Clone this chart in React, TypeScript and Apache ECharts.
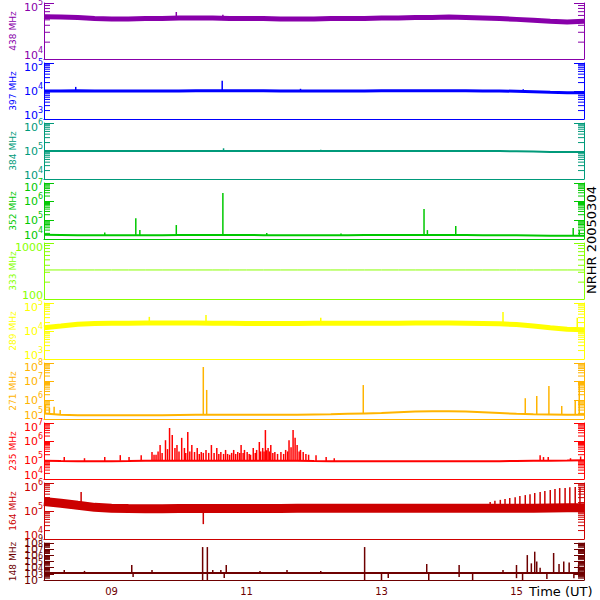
import React, { useEffect, useRef } from "react";
import * as echarts from "echarts";

// ---------- data ----------
const hours = [8, 8.25, 8.5, 8.75, 9, 9.25, 9.5, 9.75, 10, 10.25, 10.5, 10.75, 11, 11.25, 11.5, 11.75, 12, 12.25, 12.5, 12.75, 13, 13.25, 13.5, 13.75, 14, 14.25, 14.5, 14.75, 15, 15.25, 15.5, 15.75, 16];

const panelLabels = ["438 MHz", "397 MHz", "384 MHz", "352 MHz", "333 MHz", "289 MHz", "271 MHz", "235 MHz", "164 MHz", "148 MHz"];
const panelColors = ["#8800aa", "#0000ff", "#009a7a", "#00c800", "#88ff00", "#ffff00", "#ffb400", "#ff0000", "#cc0000", "#6e0000"];
const yMinExp = [4, 3, 4, 4, 2, 3, 5, 4, 4, 3];
const yMaxExp = [5, 5, 6, 7, 3, 5, 8, 7, 6, 9];
const plainLabelPanels = ["333 MHz"];
const xTickHours = [9, 11, 13, 15];

const base438 = [57000, 56000, 55000, 53000, 52000, 52000, 53000, 53000, 54000, 54000, 54000, 53000, 53000, 53000, 52000, 52000, 52000, 53000, 53000, 53000, 54000, 54000, 55000, 55000, 56000, 55000, 54000, 53000, 51000, 49000, 47000, 46000, 47000];
const base397 = [10000, 10000, 10200, 10000, 10000, 10000, 10000, 10000, 10000, 10200, 10300, 10300, 10200, 10200, 10000, 10000, 10000, 10000, 10000, 10000, 10200, 10200, 10200, 10300, 10300, 10200, 10000, 10000, 9800, 9400, 9000, 8700, 8600];
const base384 = [100000, 99000, 100000, 100000, 100000, 100000, 100000, 101000, 101000, 101000, 101000, 101000, 101000, 100000, 100000, 100000, 100000, 100000, 100000, 100000, 100000, 101000, 101000, 101000, 101000, 100000, 100000, 99000, 97000, 95000, 93000, 92000, 92000];
const base352 = [17000, 16500, 16000, 16000, 16000, 16000, 16000, 16000, 16500, 16500, 16500, 16500, 16500, 16000, 16000, 16000, 16000, 16000, 16000, 16500, 16500, 16500, 16500, 16500, 16500, 16500, 16000, 16000, 16000, 15500, 15000, 15000, 15000];
const base333 = [330, 330, 330, 330, 330, 330, 330, 330, 330, 330, 330, 330, 330, 330, 330, 330, 330, 330, 330, 330, 330, 330, 330, 330, 330, 330, 330, 330, 330, 330, 330, 330, 330];
const base289 = [13000, 15000, 17500, 18500, 19000, 19000, 19500, 19500, 19500, 19500, 19000, 19000, 18500, 18500, 18500, 18500, 19000, 19000, 19000, 19000, 19000, 19000, 19500, 19500, 19500, 19000, 18500, 18000, 17000, 15000, 13000, 11500, 11000];
const base271 = [200000, 170000, 160000, 160000, 160000, 160000, 160000, 160000, 165000, 170000, 170000, 170000, 170000, 170000, 170000, 170000, 175000, 180000, 190000, 200000, 210000, 230000, 250000, 260000, 260000, 250000, 230000, 210000, 190000, 180000, 175000, 170000, 170000];
const base235 = [95000, 92000, 90000, 90000, 90000, 92000, 95000, 95000, 95000, 95000, 95000, 95000, 95000, 95000, 95000, 95000, 92000, 90000, 90000, 90000, 90000, 90000, 90000, 90000, 90000, 90000, 90000, 90000, 92000, 95000, 95000, 97000, 100000];
const base164 = [220000, 190000, 160000, 135000, 125000, 122000, 120000, 120000, 122000, 122000, 122000, 122000, 122000, 122000, 122000, 125000, 125000, 125000, 125000, 125000, 125000, 125000, 125000, 125000, 125000, 125000, 125000, 125000, 125000, 125000, 128000, 130000, 130000];
const base148 = [13500, 13500, 13500, 13500, 13500, 13500, 13500, 13500, 13500, 13500, 13500, 13500, 13500, 13500, 13500, 13500, 13500, 13500, 13500, 13500, 13500, 13500, 13500, 13500, 13500, 13500, 13500, 13500, 13500, 13500, 13500, 13500, 13500];

// spikes: [hour, from, to]
const spikes438 = [[9.96, 53000, 69000], [10.65, 54000, 62000], [13.6, 55000, 60000]];
const spikes397 = [[8.47, 10000, 14000], [10.64, 10200, 23000], [11.8, 10000, 12000], [15.1, 9800, 11500]];
const spikes384 = [[10.66, 100000, 125000], [12.1, 100000, 110000]];
const spikes352 = [[8.9, 16000, 22000], [9.36, 16000, 130000], [9.42, 16000, 30000], [9.96, 16500, 56000], [10.65, 16500, 2900000], [11.3, 16000, 21000], [12.4, 16000, 20000], [13.63, 16500, 400000], [13.68, 16500, 30000], [14.1, 16500, 50000], [15.84, 15000, 39000], [15.93, 15000, 30000]];
const spikes333: number[][] = [];
const spikes289 = [[9.56, 19500, 32000], [10.4, 19000, 37000], [12.1, 19000, 30000], [14.8, 18000, 48000], [15.9, 11000, 30000]];
const spikes271 = [[8.02, 200000, 560000], [8.08, 190000, 400000], [8.15, 180000, 450000], [8.24, 170000, 300000], [10.36, 170000, 61000000], [10.41, 170000, 3600000], [12.73, 200000, 6600000], [15.13, 180000, 1300000], [15.3, 175000, 1700000], [15.48, 175000, 5800000], [15.67, 170000, 500000], [15.87, 170000, 1000000], [15.93, 170000, 11000000]];
const spikes235 = [[8.3, 92000, 150000], [8.6, 90000, 130000], [8.9, 92000, 150000], [9.13, 95000, 190000], [9.26, 95000, 150000], [9.44, 95000, 190000], [9.6, 95000, 280000], [9.63, 95000, 200000], [9.66, 95000, 200000], [9.69, 95000, 300000], [9.72, 95000, 660000], [9.75, 95000, 250000], [9.8, 95000, 1200000], [9.83, 95000, 400000], [9.86, 95000, 5400000], [9.9, 95000, 2300000], [9.94, 95000, 460000], [9.97, 95000, 660000], [10.0, 95000, 300000], [10.04, 95000, 1600000], [10.08, 95000, 460000], [10.1, 95000, 250000], [10.13, 95000, 3300000], [10.16, 95000, 300000], [10.19, 95000, 660000], [10.23, 95000, 280000], [10.27, 95000, 460000], [10.3, 95000, 220000], [10.33, 95000, 280000], [10.36, 95000, 250000], [10.4, 95000, 360000], [10.44, 95000, 250000], [10.48, 95000, 660000], [10.52, 95000, 250000], [10.56, 95000, 460000], [10.59, 95000, 220000], [10.62, 95000, 280000], [10.66, 95000, 220000], [10.69, 95000, 360000], [10.72, 95000, 220000], [10.75, 95000, 200000], [10.78, 95000, 250000], [10.81, 95000, 360000], [10.84, 95000, 220000], [10.87, 95000, 280000], [10.9, 95000, 250000], [10.92, 95000, 660000], [10.95, 95000, 250000], [10.97, 95000, 360000], [11.01, 95000, 280000], [11.04, 95000, 220000], [11.06, 95000, 200000], [11.1, 95000, 460000], [11.13, 95000, 250000], [11.15, 95000, 360000], [11.19, 95000, 960000], [11.21, 95000, 300000], [11.24, 95000, 460000], [11.26, 95000, 300000], [11.28, 95000, 4200000], [11.3, 95000, 350000], [11.32, 95000, 460000], [11.34, 95000, 300000], [11.36, 95000, 660000], [11.39, 95000, 250000], [11.42, 95000, 280000], [11.46, 95000, 220000], [11.51, 95000, 280000], [11.55, 95000, 220000], [11.58, 95000, 360000], [11.61, 95000, 300000], [11.63, 95000, 1200000], [11.66, 95000, 500000], [11.69, 95000, 4200000], [11.72, 95000, 1600000], [11.75, 95000, 660000], [11.78, 95000, 300000], [11.8, 95000, 360000], [11.84, 95000, 280000], [11.88, 95000, 220000], [11.92, 95000, 200000], [12.03, 92000, 190000], [12.18, 92000, 150000], [12.3, 90000, 130000], [15.35, 92000, 190000], [15.4, 92000, 150000], [15.47, 95000, 150000], [15.8, 97000, 130000], [15.95, 100000, 160000]];
const spikes164 = [[8.55, 155000, 480000], [10.36, 122000, 34000], [14.61, 100000, 210000], [14.68, 100000, 230000], [14.76, 100000, 250000], [14.83, 100000, 270000], [14.9, 100000, 290000], [14.98, 100000, 310000], [15.05, 100000, 340000], [15.13, 100000, 370000], [15.2, 100000, 400000], [15.27, 100000, 440000], [15.35, 100000, 480000], [15.42, 100000, 520000], [15.5, 100000, 560000], [15.57, 100000, 610000], [15.64, 100000, 660000], [15.72, 100000, 660000], [15.79, 100000, 700000], [15.87, 100000, 720000], [15.94, 100000, 720000]];
const spikes148 = [[8.3, 13500, 40000], [8.6, 13500, 30000], [9.3, 13500, 270000], [9.32, 3000, 13500], [9.6, 13500, 40000], [10.35, 1000, 220000000], [10.42, 1000, 220000000], [10.5, 13500, 40000], [10.62, 13500, 40000], [10.67, 2100, 13500], [10.7, 13500, 270000], [11.2, 13500, 30000], [11.6, 13500, 40000], [12.1, 13500, 30000], [12.75, 1000, 220000000], [13.0, 1000, 13500], [13.1, 2100, 13500], [13.67, 13500, 390000], [13.7, 1000, 13500], [14.15, 3000, 270000], [14.35, 1000, 13500], [14.8, 13500, 40000], [15.0, 2000, 270000], [15.09, 1000, 13500], [15.16, 13500, 11000000], [15.22, 13500, 500000], [15.27, 13500, 39000000], [15.3, 13500, 1000000], [15.35, 13500, 100000], [15.45, 1500, 13500], [15.55, 13500, 24000000], [15.63, 13500, 400000], [15.7, 13500, 1000000], [15.78, 13500, 700000], [15.85, 2000, 13500], [15.92, 13500, 300000]];

const bases = [base438, base397, base384, base352, base333, base289, base271, base235, base164, base148];
const spikes = [spikes438, spikes397, spikes384, spikes352, spikes333, spikes289, spikes271, spikes235, spikes164, spikes148];

// ---------- layout ----------
const gridTops = [3, 63, 123, 183, 243, 303, 363, 423, 483, 543];
const gridHeights = [56, 56, 56, 56, 56, 56, 56, 56, 56, 37];
const bandWidths = [5, 3, 2, 2, 1, 5, 2, 2, 9, 2];
const FONT = "DejaVu Sans";
const X_MIN = 8;
const X_MAX = 16;

function buildOption() {
  const grid: any[] = [];
  const xAxis: any[] = [];
  const yAxis: any[] = [];
  const series: any[] = [];
  const graphic: any[] = [];

  panelLabels.forEach((label, i) => {
    const color = panelColors[i];
    const lo = yMinExp[i];
    const hi = yMaxExp[i];
    const plain = plainLabelPanels.includes(label);
    const small = gridHeights[i] < 50;
    grid.push({ left: 44, right: 16, top: gridTops[i], height: gridHeights[i], containLabel: false });
    const last = i === panelLabels.length - 1;
    xAxis.push({
      type: "value",
      gridIndex: i,
      min: X_MIN,
      max: X_MAX,
      interval: 1,
      axisLine: { show: true, onZero: false, lineStyle: { color, width: 1 } },
      axisTick: { show: false },
      splitLine: { show: false },
      axisLabel: last
        ? {
            show: true,
            color: "#6e0000",
            fontSize: 10,
            fontFamily: FONT,
            margin: 6,
            formatter: (v: number) => (xTickHours.includes(v) ? String(v).padStart(2, "0") : ""),
          }
        : { show: false },
    });
    const common = { type: "value", gridIndex: i, min: lo, max: hi, interval: 1, splitLine: { show: false }, axisLabel: { show: false } };
    yAxis.push({
      ...common,
      position: "left",
      axisLine: { show: true, lineStyle: { color, width: 1 } },
      axisTick: { show: true, inside: true, length: 10, lineStyle: { color, width: 1 } },
    });
    yAxis.push({
      ...common,
      position: "right",
      axisLine: { show: true, lineStyle: { color, width: 1 } },
      axisTick: { show: true, inside: true, length: 10, lineStyle: { color, width: 1 } },
    });

    // decade tick labels, placed at the left axis through the axis scale
    const decades: number[][] = [];
    for (let d = lo; d <= hi; d++) decades.push([X_MIN, d]);
    series.push({
      type: "custom",
      xAxisIndex: i,
      yAxisIndex: 2 * i,
      clip: false,
      silent: true,
      encode: { x: 0, y: 1 },
      data: decades,
      renderItem: (params: any, api: any) => {
        const ex = Math.round(api.value(1));
        const p = api.coord([X_MIN, ex]);
        const dy = small ? 0 : ex === hi ? 4 : ex === lo ? -4 : 0;
        const xr = p[0] - 1;
        const y = p[1] + dy;
        if (plain) {
          return {
            type: "text",
            style: { text: String(Math.pow(10, ex)), x: xr, y, fill: color, fontSize: 11, fontFamily: FONT, align: "right", verticalAlign: "middle" },
          };
        }
        return {
          type: "group",
          children: [
            { type: "text", style: { text: "10", x: xr - 5, y, fill: color, fontSize: 11, fontFamily: FONT, align: "right", verticalAlign: "middle" } },
            { type: "text", style: { text: String(ex), x: xr, y: y - 5, fill: color, fontSize: 8, fontFamily: FONT, align: "right", verticalAlign: "middle" } },
          ],
        };
      },
      z: 6,
    });

    // minor log ticks (2..9 in each decade), drawn at both side axes
    const minors: number[][] = [];
    for (let d = lo; d < hi; d++) for (let m = 2; m <= 9; m++) minors.push([X_MIN, d + Math.log10(m)]);
    series.push({
      type: "custom",
      xAxisIndex: i,
      yAxisIndex: 2 * i,
      clip: false,
      silent: true,
      encode: { x: 0, y: 1 },
      data: minors,
      renderItem: (params: any, api: any) => {
        const pl = api.coord([X_MIN, api.value(1)]);
        const pr = api.coord([X_MAX, api.value(1)]);
        return {
          type: "group",
          children: [
            { type: "line", shape: { x1: pl[0], y1: pl[1], x2: pl[0] + 6, y2: pl[1] }, style: { stroke: color, lineWidth: 1 } },
            { type: "line", shape: { x1: pr[0] - 6, y1: pr[1], x2: pr[0], y2: pr[1] }, style: { stroke: color, lineWidth: 1 } },
          ],
        };
      },
      z: 5,
    });

    series.push({
      type: "line",
      xAxisIndex: i,
      yAxisIndex: 2 * i,
      data: hours.map((h, k) => [h, Math.log10(bases[i][k])]),
      showSymbol: false,
      symbol: "none",
      silent: true,
      lineStyle: { color, width: bandWidths[i] },
      z: 3,
    });
    series.push({
      type: "custom",
      xAxisIndex: i,
      yAxisIndex: 2 * i,
      clip: true,
      silent: true,
      encode: { x: 0, y: [1, 2] },
      data: spikes[i].map((s) => [s[0], Math.log10(s[1]), Math.log10(s[2])]),
      renderItem: (params: any, api: any) => {
        const p1 = api.coord([api.value(0), api.value(1)]);
        const p2 = api.coord([api.value(0), api.value(2)]);
        return {
          type: "line",
          shape: { x1: p1[0], y1: p1[1], x2: p2[0], y2: p2[1] },
          style: { stroke: color, lineWidth: 1.5 },
        };
      },
      z: 4,
    });

    graphic.push({
      type: "text",
      x: 13,
      y: gridTops[i] + gridHeights[i] / 2,
      rotation: Math.PI / 2,
      style: { text: label, fill: color, fontSize: 9, fontFamily: FONT, align: "center", verticalAlign: "middle" },
    });
  });

  graphic.push({
    type: "text",
    x: 591,
    y: 240,
    rotation: Math.PI / 2,
    style: { text: "NRHR 20050304", fill: "#000", fontSize: 13, fontFamily: FONT, align: "center", verticalAlign: "middle" },
  });
  graphic.push({
    type: "text",
    x: 529,
    y: 591,
    style: { text: "Time (UT)", fill: "#000", fontSize: 13, fontFamily: FONT, align: "left", verticalAlign: "middle" },
  });

  return {
    animation: false,
    backgroundColor: "#ffffff",
    grid,
    xAxis,
    yAxis,
    series,
    graphic,
  };
}

export default function App() {
  const ref = useRef<HTMLDivElement>(null);
  useEffect(() => {
    const chart = echarts.init(ref.current as HTMLDivElement, null, { renderer: "svg" });
    chart.setOption(buildOption() as any);
    return () => chart.dispose();
  }, []);
  return <div ref={ref} style={{ width: 600, height: 600, position: "absolute", left: 0, top: 0 }} />;
}
